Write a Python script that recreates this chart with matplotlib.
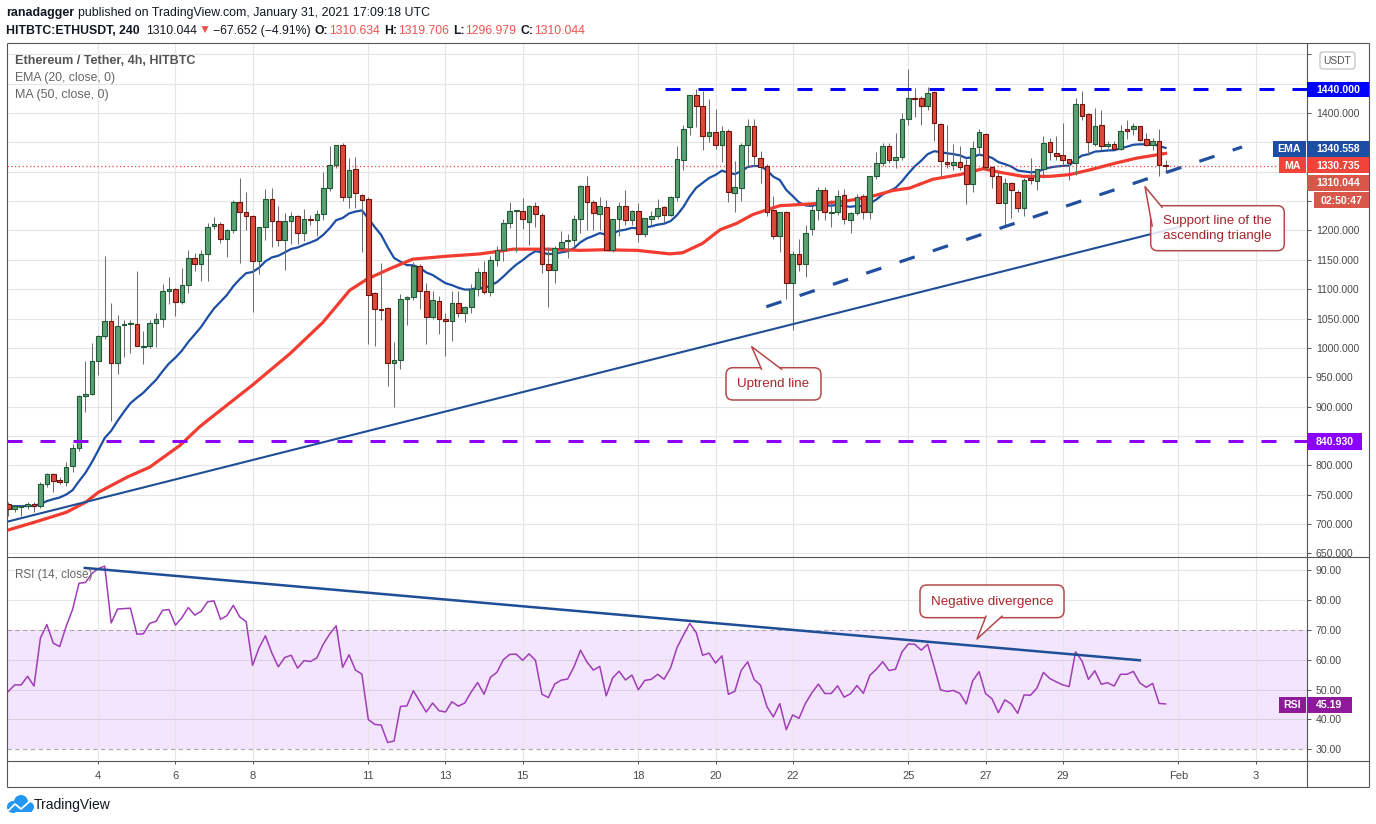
import numpy as np
import matplotlib
matplotlib.use('Agg')
import matplotlib.pyplot as plt
from matplotlib.patches import Rectangle, FancyBboxPatch, Polygon, Circle
from matplotlib.ticker import FixedLocator, FuncFormatter

W, H = 1376, 824
DPI = 100

# ETH/USDT 4h candles, Jan 1 16:00 -> Jan 31 16:00
opens = [735, 726, 729, 730, 735, 730, 768, 785, 775, 772,
         799, 829, 918, 922, 978, 1020, 1045, 975, 1039, 1040,
         1040, 1002, 1003, 1042, 1050, 1097, 1100, 1078, 1107, 1153,
         1142, 1159, 1207, 1211, 1185, 1200, 1248, 1232, 1224, 1148,
         1206, 1253, 1216, 1184, 1216, 1224, 1195, 1219, 1217, 1228,
         1273, 1311, 1346, 1256, 1304, 1260, 1253, 1093, 1067, 1068,
         974, 979, 1084, 1086, 1139, 1097, 1053, 1080, 1050, 1045,
         1076, 1060, 1069, 1101, 1130, 1095, 1149, 1166, 1212, 1233,
         1233, 1215, 1241, 1227, 1142, 1132, 1170, 1182, 1183, 1219,
         1275, 1249, 1228, 1240, 1166, 1219, 1241, 1218, 1233, 1194,
         1219, 1224, 1240, 1227, 1257, 1320, 1376, 1430, 1412, 1360,
         1367, 1345, 1370, 1264, 1273, 1345, 1378, 1323, 1309, 1235,
         1190, 1231, 1110, 1159, 1143, 1202, 1234, 1269, 1229, 1231,
         1261, 1218, 1230, 1259, 1232, 1292, 1315, 1344, 1319, 1325,
         1390, 1425, 1425, 1411, 1436, 1381, 1317, 1311, 1316, 1311,
         1279, 1342, 1364, 1308, 1292, 1247, 1281, 1265, 1238, 1290,
         1284, 1304, 1351, 1332, 1328, 1321, 1315, 1415, 1398, 1347,
         1379, 1344, 1347, 1338, 1372, 1373, 1377, 1355, 1345, 1352,
         1310.634]
highs = [737, 733, 732, 738, 737, 771, 787, 787, 781, 805,
         836, 920, 978, 1008, 1022, 1156, 1077, 1056, 1048, 1048,
         1131, 1028, 1047, 1060, 1109, 1120, 1102, 1136, 1167, 1161,
         1166, 1212, 1222, 1214, 1203, 1252, 1289, 1265, 1226, 1206,
         1270, 1273, 1241, 1229, 1232, 1226, 1236, 1226, 1234, 1300,
         1344, 1346, 1348, 1323, 1325, 1262, 1256, 1095, 1144, 1069,
         1010, 1091, 1088, 1147, 1143, 1111, 1097, 1089, 1059, 1096,
         1096, 1072, 1108, 1136, 1148, 1156, 1173, 1220, 1249, 1235,
         1255, 1243, 1249, 1230, 1171, 1174, 1199, 1194, 1227, 1278,
         1292, 1251, 1257, 1252, 1219, 1248, 1268, 1234, 1247, 1221,
         1233, 1254, 1242, 1259, 1344, 1380, 1431, 1440, 1437, 1424,
         1407, 1378, 1372, 1318, 1349, 1389, 1389, 1335, 1313, 1259,
         1231, 1233, 1165, 1186, 1210, 1241, 1274, 1274, 1251, 1268,
         1270, 1232, 1262, 1262, 1293, 1334, 1348, 1348, 1366, 1399,
         1474, 1443, 1428, 1444, 1437, 1382, 1379, 1347, 1344, 1321,
         1353, 1373, 1365, 1309, 1299, 1290, 1282, 1268, 1290, 1324,
         1305, 1361, 1358, 1361, 1383, 1322, 1426, 1437, 1399, 1409,
         1405, 1353, 1353, 1380, 1388, 1383, 1378, 1365, 1358, 1372,
         1319.706]
lows = [714, 721, 714, 726, 721, 728, 764, 754, 768, 765,
        789, 825, 890, 920, 953, 1015, 876, 955, 984, 991,
        1003, 972, 1000, 1001, 1036, 1075, 1055, 1075, 1093, 1131,
        1113, 1113, 1203, 1178, 1155, 1196, 1144, 1200, 1061, 1126,
        1183, 1171, 1174, 1133, 1177, 1177, 1182, 1209, 1190, 1217,
        1267, 1307, 1250, 1238, 1238, 1164, 1007, 1004, 1047, 935,
        900, 964, 1039, 1082, 1066, 1006, 1050, 1023, 986, 1011,
        1052, 1044, 1060, 1089, 1091, 1089, 1140, 1148, 1204, 1164,
        1203, 1175, 1206, 1127, 1070, 1111, 1169, 1153, 1172, 1196,
        1201, 1200, 1201, 1166, 1164, 1190, 1209, 1209, 1181, 1188,
        1209, 1219, 1215, 1225, 1250, 1302, 1362, 1376, 1336, 1350,
        1339, 1317, 1248, 1232, 1250, 1309, 1309, 1280, 1224, 1185,
        1164, 1083, 1031, 1131, 1120, 1193, 1218, 1217, 1206, 1227,
        1211, 1195, 1226, 1220, 1220, 1288, 1310, 1315, 1306, 1320,
        1380, 1393, 1379, 1405, 1352, 1292, 1306, 1302, 1302, 1245,
        1266, 1328, 1302, 1273, 1246, 1207, 1221, 1231, 1224, 1279,
        1268, 1290, 1319, 1319, 1312, 1286, 1295, 1388, 1329, 1343,
        1336, 1341, 1338, 1336, 1355, 1362, 1352, 1343, 1337, 1292,
        1296.979]
closes = [726, 730, 730, 735, 730, 768, 785, 774, 772, 798,
          829, 918, 922, 977, 1020, 1045, 974, 1038, 1040, 1042,
          1003, 1004, 1042, 1050, 1097, 1100, 1078, 1107, 1153, 1142,
          1159, 1206, 1211, 1185, 1200, 1248, 1231, 1224, 1148, 1205,
          1253, 1216, 1184, 1216, 1224, 1195, 1219, 1217, 1228, 1273,
          1311, 1346, 1256, 1303, 1263, 1252, 1090, 1067, 1064, 975,
          979, 1084, 1086, 1139, 1097, 1052, 1082, 1050, 1045, 1076,
          1060, 1069, 1101, 1130, 1095, 1149, 1166, 1212, 1233, 1234,
          1220, 1242, 1228, 1142, 1132, 1170, 1181, 1184, 1220, 1275,
          1249, 1230, 1241, 1166, 1219, 1241, 1218, 1233, 1194, 1221,
          1224, 1238, 1227, 1257, 1322, 1373, 1430, 1411, 1360, 1368,
          1345, 1370, 1265, 1274, 1345, 1378, 1326, 1308, 1232, 1190,
          1231, 1110, 1159, 1143, 1195, 1234, 1268, 1232, 1232, 1259,
          1219, 1230, 1257, 1232, 1293, 1315, 1344, 1320, 1325, 1390,
          1425, 1424, 1411, 1434, 1383, 1318, 1313, 1316, 1308, 1279,
          1340, 1368, 1308, 1292, 1247, 1281, 1268, 1238, 1286, 1285,
          1304, 1349, 1334, 1326, 1319, 1315, 1415, 1395, 1351, 1377,
          1343, 1347, 1339, 1370, 1370, 1377, 1354, 1345, 1353, 1311,
          1310.044]

# MA(50) line: (candle index, value)
ma50_idx = [0, 4, 9, 12, 14, 18.5, 22, 26.7, 29.8, 31.4, 37.9, 43.8, 48.9, 53.1,
            55.8, 59.4, 62.9, 68.2, 73.4, 78.5, 83.8, 88.9, 92.5, 97.8, 102.9,
            104.9, 108, 110.7, 113.3, 115.8, 118, 120, 124.7, 129.8, 134, 137.6,
            140.2, 143.8, 148, 151.6, 154.2, 157.8, 162, 165.1, 168.2, 172.4,
            175.5, 180]
ma50_val = [690, 703, 720, 737, 754, 780, 797, 834, 866, 880, 936, 990, 1043, 1098,
            1117, 1135, 1151, 1156, 1160, 1168, 1168, 1166, 1167, 1166, 1160,
            1162, 1178, 1201, 1212, 1227, 1235, 1242, 1245, 1249, 1257, 1268,
            1272, 1287, 1295, 1305, 1299, 1292, 1292, 1295, 1303, 1315,
            1323, 1331]

ema_seed = 731.0            # EMA(20) at the first visible candle
rsi_seed = (3.6, 3.0)       # Wilder avg gain / avg loss before first candle

day_ticks = [14, 26, 38, 56, 68, 80, 98, 110, 122, 140, 152, 164, 182, 194]
day_labels = ['4', '6', '8', '11', '13', '15', '18', '20', '22', '25', '27', '29', 'Feb', '3']
price_ticks = list(range(650, 1501, 50))
hidden_price = [1500, 1450, 1350, 1300, 1250, 850]   # covered by the axis tags
rsi_ticks = [30, 40, 50, 60, 70, 80, 90]

resistance = 1440.0
support_lvl = 840.93
uptrend_x, uptrend_y = [-0.2, 182.2], [704, 1206]
triangle_x, triangle_y = [117.9, 191.9], [1070, 1342]
div_x, div_y = [11.9, 176], [90.7, 59.8]

# ---------------- indicators ----------------
x = np.arange(len(closes))
o = np.array(opens, float)
c = np.array(closes, float)
hi = np.array(highs, float)
lo = np.array(lows, float)

ema = []
e = ema_seed
for v in closes:
    e += 2 / 21 * (v - e)
    ema.append(e)

rsi = []
g, l = rsi_seed
prev = opens[0]
for v in closes:
    d = v - prev
    g = (g * 13 + max(d, 0)) / 14
    l = (l * 13 + max(-d, 0)) / 14
    rsi.append(100 - 100 / (1 + g / l))
    prev = v

# ---------------- figure ----------------
plt.rcParams['font.family'] = ['Liberation Sans', 'DejaVu Sans']
fig = plt.figure(figsize=(W / DPI, H / DPI), dpi=DPI)
fig.patch.set_facecolor('white')

ax = fig.add_axes([7 / W, 1 - 557 / H, 1300 / W, 514 / H])
rs = fig.add_axes([7 / W, 1 - 760.7 / H, 1300 / W, 203.7 / H], sharex=ax)

GRID = '#e6e6e6'
for a in (ax, rs):
    for s in a.spines.values():
        s.set_visible(False)
    a.yaxis.tick_right()
    a.set_axisbelow(True)
    a.xaxis.set_major_locator(FixedLocator(day_ticks))
    a.grid(True, axis='x', color=GRID, lw=0.8)
    a.tick_params(axis='y', length=2.9, width=0.7, color='#555555', pad=3.4,
                  labelsize=7.6, labelcolor='#4a4a4a')

ax.set_xlim(-0.2, 202)
ax.set_ylim(644, 1519)
ax.yaxis.set_major_locator(FixedLocator(price_ticks))
ax.yaxis.set_major_formatter(FuncFormatter(lambda v, p: '' if round(v) in hidden_price else f'{v:.3f}'))
ax.grid(True, axis='y', color=GRID, lw=0.8)
ax.tick_params(axis='x', length=0, labelbottom=False)

# candles
up = c >= o
body_lo = np.minimum(o, c)
body_h = np.maximum(np.abs(c - o), 1.3)
ax.vlines(x, lo, hi, color='#6e6e6e', lw=0.75, zorder=3)
ax.bar(x[up], body_h[up], bottom=body_lo[up], width=0.72, color='#5b9f74',
       edgecolor='#1f5a34', lw=0.8, zorder=4)
ax.bar(x[~up], body_h[~up], bottom=body_lo[~up], width=0.72, color='#dd4a3c',
       edgecolor='#6e140f', lw=0.8, zorder=4)

ax.plot(x, ema, color='#1c4ea3', lw=1.6, zorder=2)
ax.plot(ma50_idx, ma50_val, color='#f23c30', lw=2.3, zorder=2)
ax.axhline(closes[-1], color='#f0443a', lw=0.9, ls=(0, (1, 2)), zorder=2)

ax.plot([102.1, 202], [resistance, resistance], color='#0000ff', lw=2.16,
        ls=(0, (5, 6)), zorder=5)
ax.plot([-0.2, 202], [support_lvl, support_lvl], color='#8c00ff', lw=2.16,
        ls=(0, (5, 6)), zorder=5)
ax.plot(uptrend_x, uptrend_y, color='#1f4e96', lw=1.5, zorder=5)
ax.plot(triangle_x, triangle_y, color='#22509e', lw=2.3, ls=(0, (5, 6)), zorder=5)

# RSI pane
rs.set_ylim(26.2, 94.36)
rs.yaxis.set_major_locator(FixedLocator(rsi_ticks))
rs.yaxis.set_major_formatter(FuncFormatter(lambda v, p: f'{v:.2f}'))
rs.axhspan(30, 70, color='#f3e5fd', zorder=0, lw=0)
for lvl in [40, 50, 60, 80, 90]:
    rs.axhline(lvl, color='#d9d2de' if lvl < 70 else GRID, lw=0.8, zorder=1)
for lvl in [30, 70]:
    rs.axhline(lvl, color='#a8a8a8', lw=0.8, ls=(0, (4, 3)), zorder=1)
rs.plot(x, rsi, color='#a13cb8', lw=1.1, zorder=3)
rs.plot(div_x, div_y, color='#1f4e96', lw=1.8, zorder=4)
rs.set_xticklabels(day_labels)
rs.tick_params(axis='x', length=2.5, width=0.7, color='#555555', pad=4.6,
               labelsize=8, labelcolor='#4a4a4a')

# ---------------- overlay in pixel coordinates ----------------
ov = fig.add_axes([0, 0, 1, 1], zorder=10)
ov.set_xlim(0, W)
ov.set_ylim(H, 0)
ov.axis('off')
renderer = fig.canvas.get_renderer()

FRAME = '#555555'
for xs, ys in [([7, 7], [43, 787]), ([1369, 1369], [43, 787]), ([1307, 1307], [43, 787]),
               ([7, 1369], [43, 43]), ([7, 1369], [787, 787]), ([7, 1369], [557, 557]),
               ([7, 1369], [760.7, 760.7])]:
    ov.plot(xs, ys, color=FRAME, lw=0.8, zorder=12, solid_capstyle='butt')


def tag(x0, x1, y0, y1, text, color, size=7.6):
    ov.add_patch(Rectangle((x0, y0), x1 - x0, y1 - y0, fc=color, ec='none', zorder=20))
    ov.text((x0 + x1) / 2, (y0 + y1) / 2 + 0.5, text, color='white', fontsize=size,
            fontweight='bold', ha='center', va='center', zorder=21)


tag(1307, 1369, 81.7, 97.3, '1440.000', '#0000ff')
tag(1273, 1305.5, 140.7, 156.7, 'EMA', '#1c4ea3')
tag(1307, 1369, 140.7, 156.7, '1340.558', '#1c4ea3')
tag(1279, 1305.5, 157.3, 173.3, 'MA', '#f0443a')
tag(1307, 1369, 157.3, 173.3, '1330.735', '#f0443a')
tag(1307, 1369, 175.0, 190.7, '1310.044', '#d9564a')
tag(1314, 1369, 191.7, 208.3, '02:50:47', '#d9564a')
tag(1307, 1362, 432.5, 449.5, '840.930', '#8c00ff')
tag(1279, 1305.5, 697, 713, 'RSI', '#8e1a9b')
tag(1307, 1352, 697, 713, '45.19', '#8e1a9b')

ov.add_patch(FancyBboxPatch((1320, 52), 35, 17, boxstyle='round,pad=0,rounding_size=3',
                            fc='white', ec='#b8bbc2', lw=0.8, zorder=20))
ov.text(1337.5, 60.8, 'USDT', fontsize=7.4, color='#555555', ha='center', va='center', zorder=21)

EDGE = '#b5474a'
TXT = '#a8262b'


def callout(x0, y0, x1, y1, ptr, lines, tx, ty, step=14.5):
    ov.add_patch(FancyBboxPatch((x0, y0), x1 - x0, y1 - y0,
                                boxstyle='round,pad=0,rounding_size=7',
                                fc=(1, 1, 1, 0.85), ec=EDGE, lw=1.1, zorder=15))
    ov.add_patch(Polygon(ptr, closed=True, fc='white', ec='none', zorder=16))
    ov.plot([p[0] for p in ptr], [p[1] for p in ptr], color=EDGE, lw=1.1, zorder=17)
    y0t = ty - step * (len(lines) - 1) / 2
    for i, s in enumerate(lines):
        ov.text(tx, y0t + i * step, s, color=TXT, fontsize=9.6, ha='center', va='center',
                zorder=18)


callout(726, 367.7, 821, 400, [(761.5, 369.2), (751.7, 346.7), (781.5, 369.2)],
        ['Uptrend line'], 773.5, 384)
callout(1150.7, 205.7, 1284.3, 250.7, [(1162, 207.2), (1145, 186.7), (1152.2, 226)],
        ['Support line of the', 'ascending triangle'], 1217.5, 228.5)
callout(920, 585, 1064, 617.7, [(986, 616.2), (977, 639), (1002, 616.2)],
        ['Negative divergence'], 992, 601.5)


def rich(x0, y, parts, size, target):
    def draw(sz):
        out, cx = [], x0
        for s, col, wt, gap in parts:
            cx += gap * sz * DPI / 72
            t = ov.text(cx, y, s, color=col, fontweight=wt, fontsize=sz,
                        ha='left', va='center', zorder=30)
            cx += t.get_window_extent(renderer).width
            out.append(t)
        return out, cx
    ts, end = draw(size)
    for t in ts:
        t.remove()
    draw(size * (target - x0) / (end - x0))


DARK = '#131722'
RED = '#ef5350'
rich(6, 13, [('ranadagger', DARK, 'bold', 0),
             ('published on TradingView.com, January 31, 2021 17:09:18 UTC', DARK, 'normal', 0.28)],
     9, 430)
rich(6, 31, [('HITBTC:ETHUSDT, 240', DARK, 'bold', 0),
             ('1310.044', DARK, 'normal', 0.55),
             ('\u25bc', RED, 'normal', 0.1),
             ('\u221267.652 (\u22124.91%)', DARK, 'normal', 0.2),
             ('O:', DARK, 'bold', 0.35), ('1310.634', RED, 'normal', 0.05),
             ('H:', DARK, 'bold', 0.35), ('1319.706', RED, 'normal', 0.05),
             ('L:', DARK, 'bold', 0.35), ('1296.979', RED, 'normal', 0.05),
             ('C:', DARK, 'bold', 0.35), ('1310.044', RED, 'normal', 0.05)],
     9, 587)
rich(15, 61, [('Ethereum / Tether, 4h, HITBTC', '#555555', 'bold', 0)], 9, 196)
rich(15, 78, [('EMA (20, close, 0)', '#666666', 'normal', 0)], 9, 115)
rich(15, 95, [('MA (50, close, 0)', '#666666', 'normal', 0)], 9, 109)
rich(15, 575, [('RSI (14, close)', '#666666', 'normal', 0)], 9, 92)

# TradingView logo
for cx, cy, r in [(13, 807, 6), (21, 802, 7), (29, 807, 5)]:
    ov.add_patch(Circle((cx, cy), r, fc='#2196f3', ec='none', zorder=20))
ov.add_patch(Rectangle((9, 806), 23, 6, fc='#2196f3', ec='none', zorder=20))
ov.plot([9, 15, 21, 29], [810, 804, 809, 802], color='white', lw=1.3, zorder=21)
ov.text(34, 805.5, 'TradingView', fontsize=10, color=DARK, ha='left', va='center', zorder=21)

fig.savefig('out.png', dpi=DPI, facecolor='white')
